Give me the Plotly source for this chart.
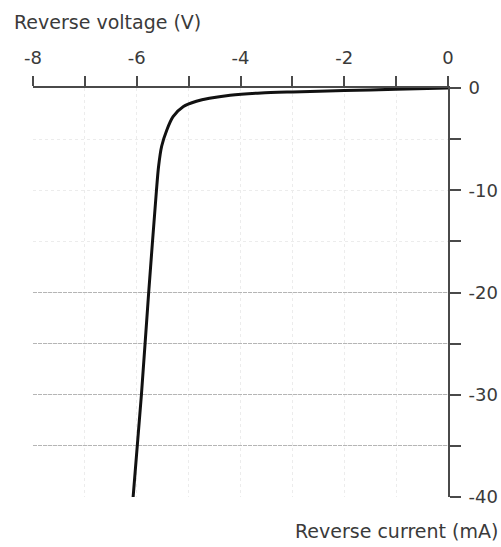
import plotly.graph_objects as go

# Data
voltage = [0, -1, -2, -3, -3.6, -4.2, -4.6, -4.85, -5.1, -5.3, -5.42, -5.52, -5.58, -5.62, -5.77, -5.91, -6.07]
current = [0, -0.12, -0.25, -0.38, -0.48, -0.7, -1.0, -1.3, -1.8, -2.8, -4.1, -5.7, -7.7, -10, -20, -30, -40]

x_ticks = [-8, -6, -4, -2, 0]
x_labels = ["-8", "-6", "-4", "-2", "0"]
y_ticks = [0, -10, -20, -30, -40]
y_labels = ["0", "-10", "-20", "-30", "-40"]
strong_grid = [-20, -25, -30, -35, -40]

FONT = "DejaVu Sans, Arial, sans-serif"
TXT = "#3a3a3a"
AX = "#4a4a4a"

fig = go.Figure()
fig.add_trace(go.Scatter(
    x=voltage, y=current, mode="lines",
    line=dict(color="#111111", width=3, shape="spline", smoothing=0.7),
    showlegend=False, hoverinfo="skip",
))

fig.update_layout(
    width=501, height=547,
    margin=dict(l=33, r=53, t=88, b=50, autoexpand=False),
    paper_bgcolor="white", plot_bgcolor="white",
    font=dict(family=FONT, size=18, color=TXT),
    xaxis=dict(
        side="top", range=[-8, 0], tickvals=x_ticks, ticktext=x_labels,
        automargin=False,
        ticks="outside", ticklen=10, tickwidth=1.5, tickcolor=AX,
        showline=True, linecolor=AX, linewidth=2,
        ticklabelstandoff=5,
        showgrid=False, zeroline=False,
        minor=dict(dtick=1, ticks="outside", ticklen=10, tickwidth=1.5, tickcolor=AX,
                   showgrid=True, gridcolor="#ececec", griddash="dot", gridwidth=1),
        tickfont=dict(size=18, color=TXT, family=FONT),
    ),
    yaxis=dict(
        side="right", range=[-40, 0], tickvals=y_ticks, ticktext=y_labels,
        automargin=False,
        ticks="outside", ticklen=11, tickwidth=1.5, tickcolor=AX,
        showline=True, linecolor=AX, linewidth=2,
        ticklabelstandoff=4,
        showgrid=True, gridcolor="#ececec", griddash="dot", gridwidth=1,
        zeroline=False,
        minor=dict(dtick=5, ticks="outside", ticklen=11, tickwidth=1.5, tickcolor=AX,
                   showgrid=True, gridcolor="#ececec", griddash="dot", gridwidth=1),
        tickfont=dict(size=18, color=TXT, family=FONT),
    ),
    yaxis2=dict(
        overlaying="y", side="right", range=[-40, 0], tickvals=strong_grid,
        automargin=False,
        showticklabels=False, ticks="", showline=False, zeroline=False,
        showgrid=True, gridcolor="#b5b5b5", griddash="4px,1px", gridwidth=1,
    ),
    annotations=[
        dict(text="Reverse voltage (V)", xref="paper", yref="paper",
             x=-0.05, y=1.161, xanchor="left", yanchor="middle", showarrow=False,
             font=dict(size=19, color=TXT, family=FONT)),
        dict(text="Reverse current (mA)", xref="paper", yref="paper",
             x=1.125, y=-0.083, xanchor="right", yanchor="middle", showarrow=False,
             font=dict(size=19, color=TXT, family=FONT)),
    ],
)
# invisible trace so the yaxis2 gridlines render
fig.add_trace(go.Scatter(x=[None], y=[None], yaxis="y2", showlegend=False, hoverinfo="skip"))

fig.write_html("out.html", config={"displayModeBar": False},
               post_script="document.body.style.margin='0px';")
